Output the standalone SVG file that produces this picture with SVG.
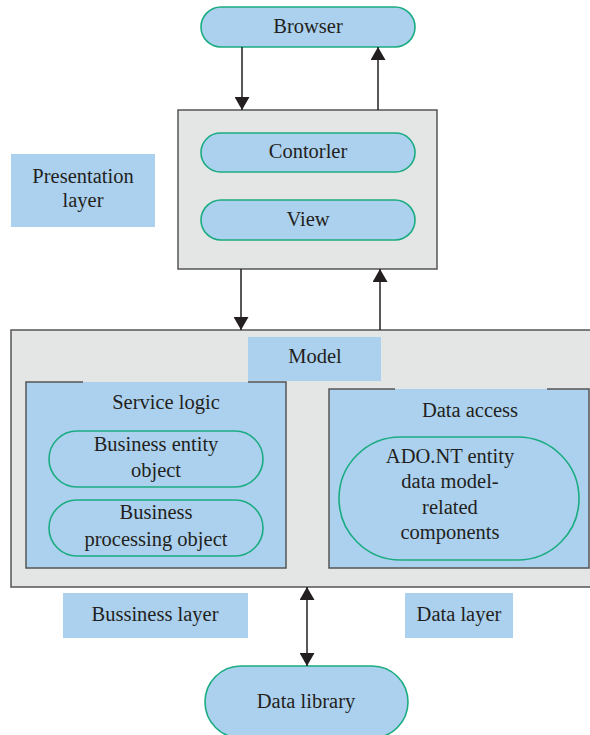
<svg xmlns="http://www.w3.org/2000/svg" width="590" height="735" viewBox="0 0 590 735">
  <style>
    .txt { font-family: "Liberation Serif", "Times New Roman", serif; font-size: 20.5px; fill: #231f20; text-anchor: middle; }
    .pill { fill: #acd1ef; stroke: #1aac80; stroke-width: 1.6; }
    .ring { fill: none; stroke: #1aac80; stroke-width: 1.6; }
    .panel { fill: #e4e5e5; stroke: #555; stroke-width: 1.5; }
    .box { fill: #acd1ef; }
    .edge { fill: none; stroke: #555; stroke-width: 1.5; }
    .label { fill: #acd1ef; }
    .wire { stroke: #231f20; stroke-width: 1.5; fill: none; }
  </style>
  <defs>
    <marker id="arrow" viewBox="0 0 13 15" refX="13" refY="7.5" markerWidth="13" markerHeight="15" markerUnits="userSpaceOnUse" orient="auto">
      <path d="M0,0 L13,7.5 L0,15 Z" fill="#231f20"/>
    </marker>
    <marker id="arrowStart" viewBox="0 0 13 15" refX="0" refY="7.5" markerWidth="13" markerHeight="15" markerUnits="userSpaceOnUse" orient="auto">
      <path d="M13,0 L0,7.5 L13,15 Z" fill="#231f20"/>
    </marker>
  </defs>

  <!-- Browser -->
  <g id="browser">
    <rect class="pill" x="201" y="7" width="214" height="40" rx="20"/>
    <text class="txt" x="308" y="33">Browser</text>
  </g>

  <!-- Presentation container -->
  <g id="presentation">
    <rect class="panel" x="178" y="110" width="259" height="159"/>
  </g>
  <g id="controller">
    <rect class="pill" x="201" y="133" width="214" height="39" rx="19.5"/>
    <text class="txt" x="308" y="158">Contorler</text>
  </g>
  <g id="view">
    <rect class="pill" x="201" y="200" width="214" height="40" rx="20"/>
    <text class="txt" x="308" y="226">View</text>
  </g>
  <g id="presentation-layer">
    <rect class="label" x="11" y="154" width="144" height="73"/>
    <text class="txt" x="83" y="183">Presentation</text>
    <text class="txt" x="83" y="207">layer</text>
  </g>

  <!-- Model container -->
  <g id="model-frame">
    <rect class="panel" x="11" y="330" width="590" height="257"/>
  </g>
  <g id="service-logic">
    <rect class="box" x="26" y="382" width="260" height="186"/>
    <path class="edge" d="M83,382 H26 V568 H286 V382 H248"/>
    <text class="txt" x="166" y="409">Service logic</text>
  </g>
  <g id="business-entity">
    <rect class="ring" x="49" y="431" width="214" height="56" rx="28"/>
    <text class="txt" x="156" y="451">Business entity</text>
    <text class="txt" x="156" y="477">object</text>
  </g>
  <g id="business-processing">
    <rect class="ring" x="49" y="500" width="214" height="56" rx="28"/>
    <text class="txt" x="156" y="519">Business</text>
    <text class="txt" x="156" y="546">processing object</text>
  </g>
  <g id="data-access">
    <rect class="box" x="329" y="389" width="260" height="179"/>
    <path class="edge" d="M395,389 H329 V568 H589 V389 H547"/>
    <text class="txt" x="470" y="417">Data access</text>
  </g>
  <g id="ado-components">
    <rect class="ring" x="339" y="437" width="240" height="123" rx="61.5"/>
    <text class="txt" x="450" y="463">ADO.NT entity</text>
    <text class="txt" x="450" y="488">data model-</text>
    <text class="txt" x="450" y="514">related</text>
    <text class="txt" x="450" y="539">components</text>
  </g>
  <g id="model">
    <rect class="label" x="248" y="337" width="133" height="44"/>
    <text class="txt" x="315" y="363">Model</text>
  </g>

  <!-- Layer captions -->
  <g id="business-layer">
    <rect class="label" x="63" y="593" width="185" height="45"/>
    <text class="txt" x="155" y="621">Bussiness layer</text>
  </g>
  <g id="data-layer">
    <rect class="label" x="405" y="593" width="108" height="45"/>
    <text class="txt" x="459" y="621">Data layer</text>
  </g>

  <!-- Data library -->
  <g id="data-library">
    <rect class="pill" x="205" y="666" width="203" height="72" rx="36"/>
    <text class="txt" x="306" y="708">Data library</text>
  </g>

  <!-- Connectors -->
  <g id="connectors">
    <line class="wire" x1="242" y1="47" x2="242" y2="110" marker-end="url(#arrow)"/>
    <line class="wire" x1="378" y1="110" x2="378" y2="47" marker-end="url(#arrow)"/>
    <line class="wire" x1="241" y1="269" x2="241" y2="330" marker-end="url(#arrow)"/>
    <line class="wire" x1="380" y1="330" x2="380" y2="269" marker-end="url(#arrow)"/>
    <line class="wire" x1="307" y1="587" x2="307" y2="666" marker-start="url(#arrowStart)" marker-end="url(#arrow)"/>
  </g>
</svg>
